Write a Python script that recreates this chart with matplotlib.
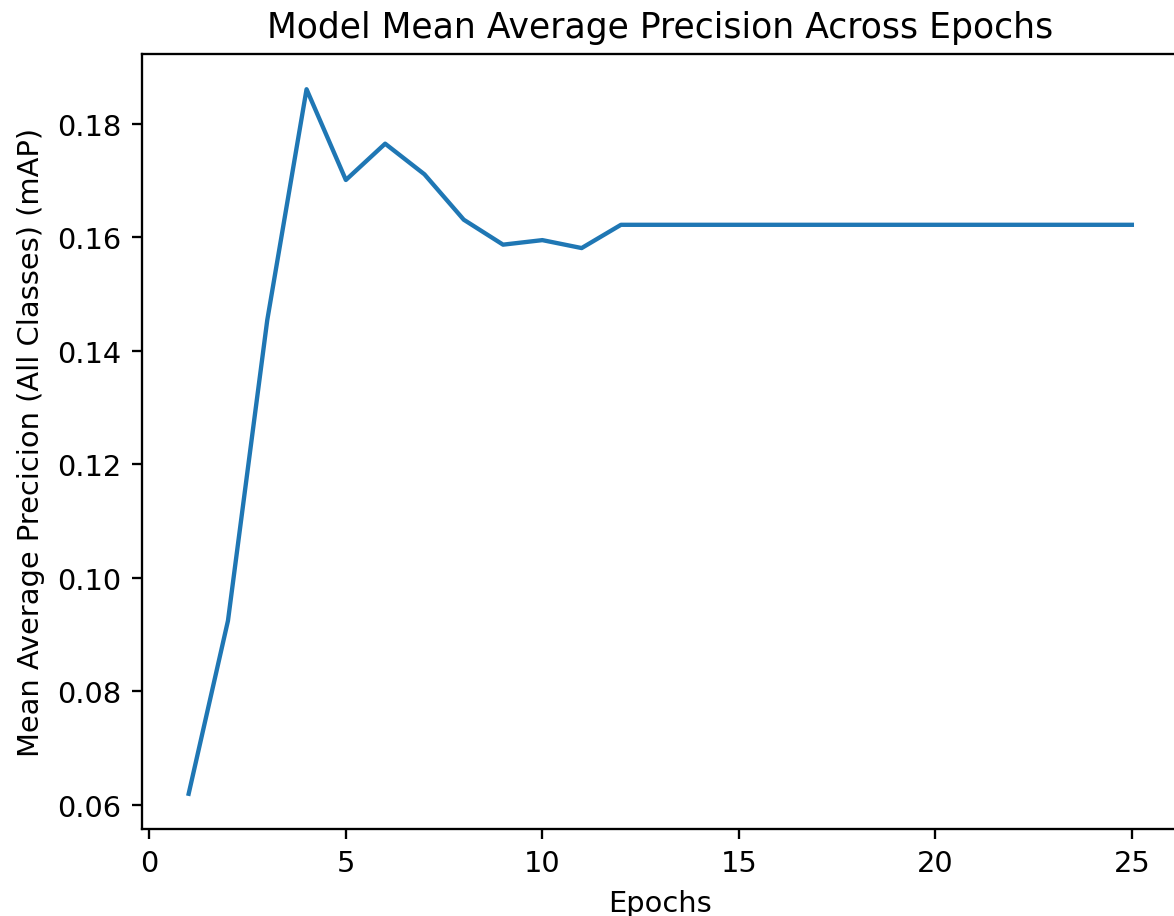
import matplotlib
matplotlib.use("Agg")
import matplotlib.pyplot as plt

DPI = 208
W, H = 1174, 917

epochs = list(range(1, 26))
map_values = [
    0.0619, 0.0924, 0.1454, 0.1861, 0.1701, 0.1765, 0.1711, 0.1631,
    0.1587, 0.1595, 0.1581, 0.1622, 0.1622, 0.1622, 0.1622, 0.1622,
    0.1622, 0.1622, 0.1622, 0.1622, 0.1622, 0.1622, 0.1622, 0.1622,
    0.1622,
]

fig = plt.figure(figsize=(W / DPI, H / DPI), dpi=DPI)
# axes box extends slightly past the right edge, as in the cropped original
left, right, top, bottom = 141.5, 1179, 55, 830
ax = fig.add_axes([left / W, (H - bottom) / H, (right - left) / W, (bottom - top) / H])

ax.plot(epochs, map_values, color="#1f77b4")
ax.set_title("Model Mean Average Precision Across Epochs")
ax.set_xlabel("Epochs")
ax.set_ylabel("Mean Average Precicion (All Classes) (mAP)")

fig.savefig("out.png", dpi=DPI)
